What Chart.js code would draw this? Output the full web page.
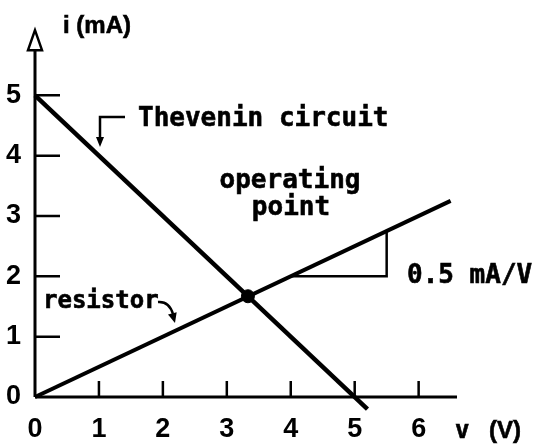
<!DOCTYPE html>
<html>
<head>
<meta charset="utf-8">
<script src="https://cdn.jsdelivr.net/npm/chart.js@4.4.0/dist/chart.umd.min.js"></script>
<style>
  html, body { margin: 0; padding: 0; background: #fff; }
</style>
</head>
<body>
<canvas id="chart" width="543" height="446"></canvas>
<script>
// values
const xTicks = [0, 1, 2, 3, 4, 5, 6]
const yTicks = [0, 1, 2, 3, 4, 5]
const theveninLine = [{ x: 0, y: 5 }, { x: 5.2, y: -0.2 }]
const resistorLine = [{ x: 0, y: 0 }, { x: 6.5, y: 3.25 }]
const operatingPoint = [{ x: 3.33, y: 1.67 }]
const slopeTriangle = [{ x: 4, y: 2 }, { x: 5.5, y: 2 }, { x: 5.5, y: 2.75 }]

const MONO = '"DejaVu Sans Mono", "Liberation Mono", monospace'
const SANS = '"Liberation Sans", Arial, sans-serif'

function arrowHead(ctx, x, y, angle, len, half) {
  ctx.save()
  ctx.translate(x, y)
  ctx.rotate(angle)
  ctx.beginPath()
  ctx.moveTo(0, 0)
  ctx.lineTo(-len, -half)
  ctx.lineTo(-len, half)
  ctx.closePath()
  ctx.fill()
  ctx.restore()
}

function label(ctx, str, x, y, size, align, family) {
  ctx.save()
  ctx.font = 'bold ' + size + 'px ' + (family || MONO)
  ctx.textAlign = align || 'left'
  ctx.textBaseline = 'alphabetic'
  ctx.lineWidth = 0.6
  ctx.fillText(str, x, y)
  ctx.strokeText(str, x, y)
  ctx.restore()
}

const drawing = {
  id: 'drawing',
  beforeDatasetsDraw(chart) {
    const ctx = chart.ctx
    const xs = chart.scales.x
    const ys = chart.scales.y
    const x0 = xs.getPixelForValue(0)
    const y0 = ys.getPixelForValue(0)
    ctx.save()
    ctx.strokeStyle = '#000'
    ctx.lineCap = 'butt'

    // axes
    ctx.lineWidth = 3
    ctx.beginPath()
    ctx.moveTo(x0, y0)
    ctx.lineTo(xs.getPixelForValue(6.6), y0)
    ctx.moveTo(x0, y0)
    ctx.lineTo(x0, chart.chartArea.top + 20)
    ctx.stroke()

    // hollow arrow on the i axis
    const top = chart.chartArea.top
    ctx.fillStyle = '#fff'
    ctx.lineWidth = 2.5
    ctx.beginPath()
    ctx.moveTo(x0, top)
    ctx.lineTo(x0 - 7, top + 20)
    ctx.lineTo(x0 + 7, top + 20)
    ctx.closePath()
    ctx.fill()
    ctx.stroke()

    // tick marks inside the plot
    ctx.lineWidth = 2.5
    ctx.beginPath()
    xTicks.forEach((v) => {
      if (v === 0) return
      const px = xs.getPixelForValue(v)
      ctx.moveTo(px, y0)
      ctx.lineTo(px, y0 - 16)
    })
    yTicks.forEach((v) => {
      if (v === 0) return
      const py = ys.getPixelForValue(v)
      ctx.moveTo(x0, py)
      ctx.lineTo(x0 + 25, py)
    })
    ctx.stroke()
    ctx.restore()
  },
  afterDatasetsDraw(chart) {
    const ctx = chart.ctx
    ctx.save()
    ctx.fillStyle = '#000'
    ctx.strokeStyle = '#000'

    label(ctx, 'i (mA)', 63, 33, 24, 'left', SANS)
    label(ctx, 'Thevenin circuit', 138, 126, 26)
    label(ctx, '0.5 mA/V', 407, 283, 26)
    label(ctx, 'operating', 290, 188, 26, 'center')
    label(ctx, 'point', 291, 215, 26, 'center')
    label(ctx, 'resistor', 43, 308, 24)
    label(ctx, 'v', 455, 438, 24)
    label(ctx, '(V)', 489, 438, 24, 'left', SANS)

    // leader to the Thevenin line
    ctx.lineWidth = 2.5
    ctx.beginPath()
    ctx.moveTo(125, 117)
    ctx.lineTo(100, 117)
    ctx.lineTo(100, 138)
    ctx.stroke()
    arrowHead(ctx, 100, 147, Math.PI / 2, 10, 4)

    // curved arrow to the resistor line
    ctx.beginPath()
    ctx.moveTo(158, 302)
    ctx.quadraticCurveTo(169, 301, 173, 314)
    ctx.stroke()
    arrowHead(ctx, 175, 323, 1.3, 10, 4.5)
    ctx.restore()
  }
}

new Chart(document.getElementById('chart'), {
  type: 'scatter',
  data: {
    datasets: [
      {
        data: theveninLine,
        showLine: true,
        borderColor: '#000',
        borderWidth: 4.5,
        pointRadius: 0,
        clip: false
      },
      {
        data: resistorLine,
        showLine: true,
        borderColor: '#000',
        borderWidth: 4,
        pointRadius: 0,
        clip: false
      },
      {
        data: slopeTriangle,
        showLine: true,
        borderColor: '#000',
        borderWidth: 2.5,
        borderJoinStyle: 'miter',
        pointRadius: 0
      },
      {
        data: operatingPoint,
        showLine: false,
        pointRadius: 6.5,
        pointBackgroundColor: '#000',
        pointBorderColor: '#000'
      }
    ]
  },
  options: {
    responsive: false,
    animation: false,
    layout: { padding: { top: 15, right: 86, left: 0, bottom: 0 } },
    plugins: { legend: { display: false }, tooltip: { enabled: false } },
    scales: {
      x: {
        type: 'linear',
        min: 0,
        max: 6.6,
        grid: { display: false, drawTicks: false },
        border: { display: false },
        ticks: { color: '#000', padding: 16, font: { family: SANS, size: 27, weight: 'bold' } },
        afterBuildTicks: (s) => { s.ticks = xTicks.map((v) => ({ value: v })) },
        afterFit: (s) => { s.height = 49 }
      },
      y: {
        type: 'linear',
        min: 0,
        max: 6.08,
        grid: { display: false, drawTicks: false },
        border: { display: false },
        ticks: { color: '#000', padding: 14, font: { family: SANS, size: 27, weight: 'bold' } },
        afterBuildTicks: (s) => { s.ticks = yTicks.map((v) => ({ value: v })) },
        afterFit: (s) => { s.width = 35 }
      }
    }
  },
  plugins: [drawing]
})
</script>
</body>
</html>
